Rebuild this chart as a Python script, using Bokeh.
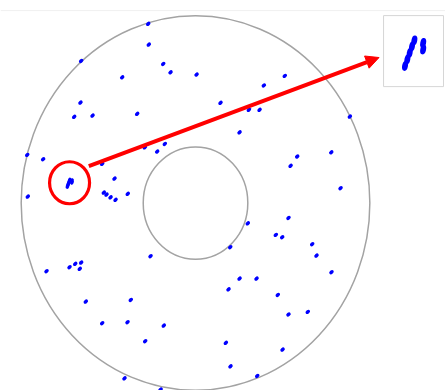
import numpy as np
from bokeh.plotting import figure
from bokeh.models import Range1d, Arrow, NormalHead, Span
from bokeh.embed import file_html
from bokeh.resources import INLINE

# Wafer geometry (mm)
outer_radius = 150
inner_radius = 45

# Isolated defect locations (mm, wafer centre = 0,0)
defect_x = [-40.7, -40.2, -98.4, -27.8, -21.5, -63.1, 0.9, 76.8, 58.8, -99.0,
            21.5, -104.4, -88.6, -50.2, 45.9, 55.1, 132.8, 37.9, -26.4, -43.6,
            -33.0, -144.8, -131.1, 116.8, 87.5, 81.8, -80.3, -69.7, -144.3, -78.9,
            -76.6, -73.1, -68.8, -58.3, 124.8, 80.0, 45.0, 69.1, 74.6, 100.4,
            104.1, 29.9, -38.7, -128.2, -108.4, -103.5, -98.4, -99.6, 117.0, 37.9,
            52.5, 28.4, 70.8, -94.4, -55.7, -80.3, -58.5, -27.3, 80.0, 96.6,
            -43.3, 26.1, 74.9, 30.1, 53.1, -61.1, -30.1]
defect_y = [143.6, 127.0, 113.9, 111.5, 104.8, 100.8, 103.0, 101.9, 94.2, 80.5,
            80.3, 69.1, 70.1, 71.5, 74.7, 74.7, 69.3, 56.7, 47.4, 44.7,
            41.3, 38.6, 35.1, 40.7, 37.3, 29.8, 31.4, 19.6, 5.2, 8.4,
            6.8, 4.6, 2.6, 7.4, 11.9, -11.9, -16.2, -25.5, -27.4, -33.0,
            -42.1, -35.4, -42.6, -54.6, -51.4, -48.7, -47.7, -52.7, -55.4, -60.5,
            -60.5, -69.1, -73.6, -78.9, -77.6, -96.3, -95.5, -98.2, -89.3, -87.2,
            -110.7, -112.0, -117.4, -130.8, -138.5, -140.4, -149.4]

# Defect cluster (mm)
cluster_x = [-110.2, -109.7, -109.2, -108.7, -108.2, -106.3, -106.3]
cluster_y = [13.3, 14.6, 15.9, 17.2, 18.4, 17.9, 16.6]

# Zoomed inset settings
inset_left, inset_right = 161.8, 213.4
inset_bottom, inset_top = 93.3, 150.2
inset_mag = 4.0

BLUE = "#0000ff"
RED = "#ff0000"
GRAY = "#a3a3a3"

p = figure(width=445, height=390, output_backend="svg", toolbar_location=None,
           x_range=Range1d(-167.8, 215.1), y_range=Range1d(-150.2, 162.3),
           min_border=0, outline_line_color=None, background_fill_color="white",
           border_fill_color="white")
p.axis.visible = False
p.grid.visible = False

# faint top rule
p.add_layout(Span(location=154.2, dimension="width", line_color="#f0f0f0", line_width=1))

# wafer outline and inner ring
p.ellipse(x=[0], y=[0], width=[2 * outer_radius], height=[2 * outer_radius],
          fill_color=None, line_color=GRAY, line_width=1.5)
p.ellipse(x=[0], y=[0], width=[2 * inner_radius], height=[2 * inner_radius],
          fill_color=None, line_color=GRAY, line_width=1.5)

# defects
p.ellipse(x=defect_x, y=defect_y, width=5.0, height=3.6,
          width_units="screen", height_units="screen", angle=0.7,
          fill_color=BLUE, line_color=None)
p.ellipse(x=cluster_x, y=cluster_y, width=3.6, height=5.0,
          width_units="screen", height_units="screen", angle=-0.3,
          fill_color=BLUE, line_color=None)

# cluster centre
ccx = float(np.mean(cluster_x))
ccy = float(np.mean(cluster_y))

# red ring around cluster
p.ellipse(x=[ccx], y=[ccy], width=40, height=42, width_units="screen",
          height_units="screen", fill_color=None, line_color=RED, line_width=3.2)

# inset box with magnified cluster
p.quad(left=[inset_left], right=[inset_right], bottom=[inset_bottom], top=[inset_top],
       fill_color="white", line_color="#d6d6d6", line_width=1)
icx = (inset_left + inset_right) / 2
icy = (inset_bottom + inset_top) / 2
ix = icx + (np.array(cluster_x) - ccx) * inset_mag
iy = icy + (np.array(cluster_y) - ccy) * inset_mag
p.ellipse(x=ix, y=iy, width=5.8, height=10.0, width_units="screen",
          height_units="screen", angle=-0.2, fill_color=BLUE, line_color=None)

# arrow from ring to inset
p.add_layout(Arrow(end=NormalHead(size=13, fill_color=RED, line_color=RED, line_width=1),
                   x_start=-91.8, y_start=29.6, x_end=157.9, y_end=116.6,
                   line_color=RED, line_width=4))

open("out.html", "w").write(file_html(p, INLINE))
